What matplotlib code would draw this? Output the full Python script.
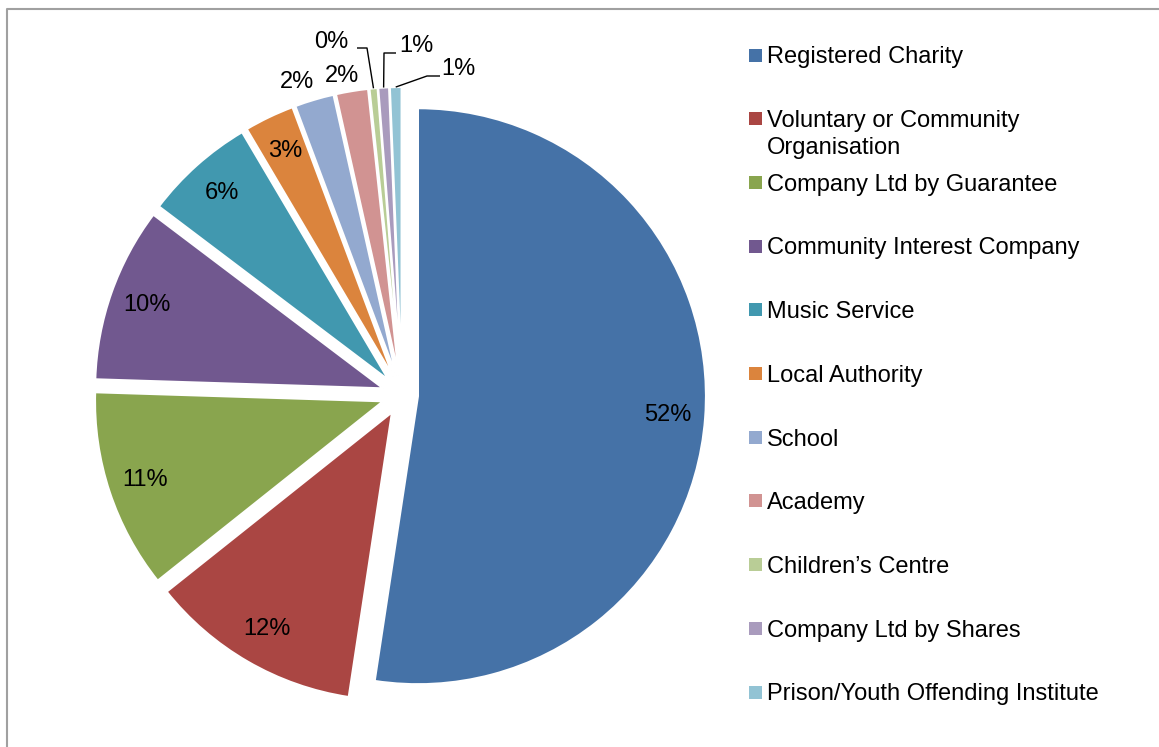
import matplotlib
matplotlib.use("Agg")
import matplotlib.pyplot as plt
from matplotlib.patches import Rectangle
import numpy as np

# Organisation types and their share of respondents (%)
categories = [
    "Registered Charity",
    "Voluntary or Community\nOrganisation",
    "Company Ltd by Guarantee",
    "Community Interest Company",
    "Music Service",
    "Local Authority",
    "School",
    "Academy",
    "Children\u2019s Centre",
    "Company Ltd by Shares",
    "Prison/Youth Offending Institute",
]
shares = [52.4, 11.9, 11.2, 9.8, 6.2, 2.8, 2.2, 1.8, 0.45, 0.6, 0.65]

colors = [
    "#4572A7", "#AA4643", "#89A54E", "#71588F", "#4198AF", "#DB843D",
    "#93A9CF", "#D19392", "#B9CD96", "#A99BBD", "#92C3D4",
]

W, H = 1159, 747
plt.rcParams["font.family"] = ["Liberation Sans", "DejaVu Sans"]
FS = 17

fig = plt.figure(figsize=(W / 100, H / 100), dpi=100)
ax = fig.add_axes([0, 0, 1, 1])


def Y(y):
    """Convert a top-down pixel row into axis coordinates."""
    return H - y


cx, cy, R = 402, Y(395), 288
offsets = [16] + [20] * (len(shares) - 1)   # explode distance in pixels

wedges, _, autotexts = ax.pie(
    shares, colors=colors, startangle=90, counterclock=False,
    center=(cx, cy), radius=R, autopct="%.0f%%", pctdistance=0.87,
    wedgeprops=dict(edgecolor="white", linewidth=1.5),
    textprops=dict(fontsize=FS, color="black"),
)

# shift each wedge outward along its bisector
mids = []
for w, t, d in zip(wedges, autotexts, offsets):
    th = np.deg2rad(0.5 * (w.theta1 + w.theta2))
    ux, uy = np.cos(th), np.sin(th)
    c = (cx + d * ux, cy + d * uy)
    w.set_center(c)
    t.set_position((c[0] + 0.87 * R * ux, c[1] + 0.87 * R * uy))
    mids.append((c, ux, uy))

# labels of the thin slices sit outside the pie
outside = {6: (297, 82), 7: (342, 76), 8: (331, 42), 9: (416, 46), 10: (458, 69)}
for i, (x, y) in outside.items():
    autotexts[i].set_position((x, Y(y)))

# leader lines: text end -> elbow -> rim of slice
leaders = {8: ((357, 48), (367, 48)), 9: ((396, 53), (384, 53)), 10: ((440, 76), (427, 76))}
for i, (p0, p1) in leaders.items():
    c, ux, uy = mids[i]
    rim = (c[0] + R * ux, c[1] + R * uy)
    ax.plot([p0[0], p1[0], rim[0]], [Y(p0[1]), Y(p1[1]), rim[1]],
            color="black", lw=1.0, solid_capstyle="butt")

# legend drawn as a column of swatches
lx, ly0, lstep, lsq = 749, 55, 63.7, 13
line_gap = 27
for i, (lab, col) in enumerate(zip(categories, colors)):
    yc = ly0 + i * lstep
    ax.add_patch(Rectangle((lx, Y(yc) - lsq / 2), lsq, lsq, facecolor=col,
                           edgecolor="none"))
    for k, line in enumerate(lab.split("\n")):
        ax.text(767, Y(yc + 8.3 + k * line_gap), line, fontsize=FS,
                color="black", va="baseline", ha="left")

# chart-area border (top and left edges visible)
ax.plot([7, 7, W], [Y(H), Y(9), Y(9)], color="#A0A0A0", lw=1.5)

ax.set_xlim(0, W)
ax.set_ylim(0, H)
ax.set_aspect("auto")
ax.axis("off")

fig.savefig("out.png", dpi=100)
